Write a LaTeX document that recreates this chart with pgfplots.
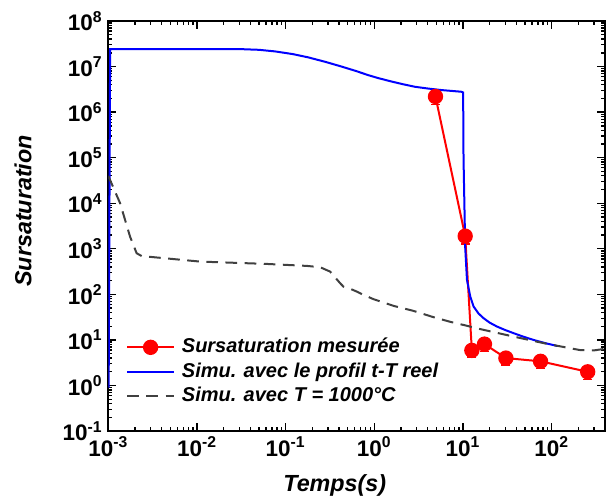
\documentclass[border=0pt]{standalone}
\usepackage{fontspec}
\setmainfont{Liberation Sans}
\usepackage{pgfplots}
\usepackage{pgfplotstable}
\pgfplotsset{compat=1.18}

\pgfplotstableread{
x y e
4.9 2.2e6 0.75e6
10.6 1.9e3 0.63e3
12.6 5.9 1.7
17.5 8.1 2.5
30.5 4.0 1.2
75 3.4 1.0
255 2.0 0.65
}\mesure

\pgfplotstableread{
x y
0.00101 0.9
0.00105 2.42e7
0.03 2.42e7
0.05 2.33e7
0.076 2.15e7
0.12 1.88e7
0.18 1.59e7
0.28 1.27e7
0.427 1.0e7
0.62 8.0e6
0.85 6.5e6
1.1 5.6e6
1.56 4.7e6
2.1 4.1e6
2.87 3.6e6
4.0 3.3e6
5.7 3.05e6
9.6 2.8e6
10.05 2.7e6
10.15 1e5
10.6 1.1e3
11.1 208
12.1 89
13.2 54
15.0 38
17.1 30
20.0 24
24.2 19.7
30.0 16.5
37.2 14.1
48.0 11.8
62.7 10.0
85.0 8.5
115 7.4
}\simreel

\pgfplotstableread{
x y
0.001 4.0e4
0.00136 1.0e4
0.00176 1860
0.00209 800
0.00238 694
0.0108 525
0.0614 466
0.173 422
0.245 395
0.318 316
0.412 176
0.449 148
0.55 130
0.636 115
0.72 102
0.98 78.5
1.65 56
2.77 43.4
4.66 31.6
7.2 25
10.5 21
15.7 17.3
37 11.9
89 8.2
209 6.0
300 5.9
400 6.4
}\simconst

\begin{document}
\begin{tikzpicture}
\begin{axis}[name=ax,
  scale only axis, width=298.2pt, height=246.2pt,
  xmode=log, ymode=log,
  xmin=1e-3, xmax=400, ymin=1e-1, ymax=1e8,
  axis line style={line width=1.2pt},
  tick style={black, line width=0.8pt},
  major tick length=4.6pt, minor tick length=2.4pt,
  tick align=inside,
  ticklabel style={font=\fontsize{13.5}{13.5}\selectfont\bfseries},
  xtick={1e-3,1e-2,1e-1,1,10,100},
  xticklabels={10\textsuperscript{-3},10\textsuperscript{-2},10\textsuperscript{-1},10\textsuperscript{0},10\textsuperscript{1},10\textsuperscript{2}},
  minor xtick={0.002,0.003,0.004,0.005,0.006,0.007,0.008,0.009,0.02,0.03,0.04,0.05,0.06,0.07,0.08,0.09,0.2,0.3,0.4,0.5,0.6,0.7,0.8,0.9,2,3,4,5,6,7,8,9,20,30,40,50,60,70,80,90,200,300,400},
  ytick={1e-1,1,1e1,1e2,1e3,1e4,1e5,1e6,1e7,1e8},
  yticklabels={10\textsuperscript{-1},10\textsuperscript{0},10\textsuperscript{1},10\textsuperscript{2},10\textsuperscript{3},10\textsuperscript{4},10\textsuperscript{5},10\textsuperscript{6},10\textsuperscript{7},10\textsuperscript{8}},
  minor ytick={0.2,0.3,0.4,0.5,0.6,0.7,0.8,0.9,2,3,4,5,6,7,8,9,20,30,40,50,60,70,80,90,200,300,400,500,600,700,800,900,2e3,3e3,4e3,5e3,6e3,7e3,8e3,9e3,2e4,3e4,4e4,5e4,6e4,7e4,8e4,9e4,2e5,3e5,4e5,5e5,6e5,7e5,8e5,9e5,2e6,3e6,4e6,5e6,6e6,7e6,8e6,9e6,2e7,3e7,4e7,5e7,6e7,7e7,8e7,9e7},
  xlabel={Temps(s)},
  ylabel={Sursaturation},
  label style={font=\fontsize{14}{14}\selectfont\bfseries\itshape},
  xlabel style={at={(rel axis cs:0.456,0)}, anchor=base, yshift=-36.5pt},
  ylabel style={at={(rel axis cs:0,0.537)}, anchor=center, yshift=51.2pt},
  legend cell align=left,
  legend image code/.code={\draw[mark repeat=2,mark phase=2,#1] plot coordinates {(0pt,0pt) (14pt,0pt) (28pt,0pt)};},
  legend style={at={(rel axis cs:0.0356,0.1445)}, anchor=west, draw=none, fill=none,
    font=\fontsize{12}{12}\selectfont\bfseries\itshape, inner sep=0pt,
    row sep=3.2pt, column sep=4.2pt,
    nodes={inner sep=0pt, text height=9pt, text depth=2.5pt}},
]
\addplot[red, line width=1.2pt, mark=*, mark size=4pt, mark options={fill=red, draw=red, solid},
  error bars/.cd, y dir=both, y explicit,
  error bar style={red, line width=0.8pt},
  error mark options={rotate=90, red, mark size=2.7pt, line width=0.8pt}]
  table[x=x, y=y, y error=e] {\mesure};
\addlegendentry{Sursaturation mesurée}
\addplot[blue, line width=1.2pt] table[x=x, y=y] {\simreel};
\addlegendentry{Simu. avec le profil t-T reel}
\addplot[black!75, line width=1.2pt, dash pattern=on 7pt off 4.5pt] table[x=x, y=y] {\simconst};
\addlegendentry{Simu. avec T = 1000°C}
\end{axis}
\pgfresetboundingbox
\path[use as bounding box] ([xshift=-65pt,yshift=-43pt]ax.south west) rectangle ([xshift=0.6pt,yshift=12.6pt]ax.north east);
\end{tikzpicture}
\end{document}
